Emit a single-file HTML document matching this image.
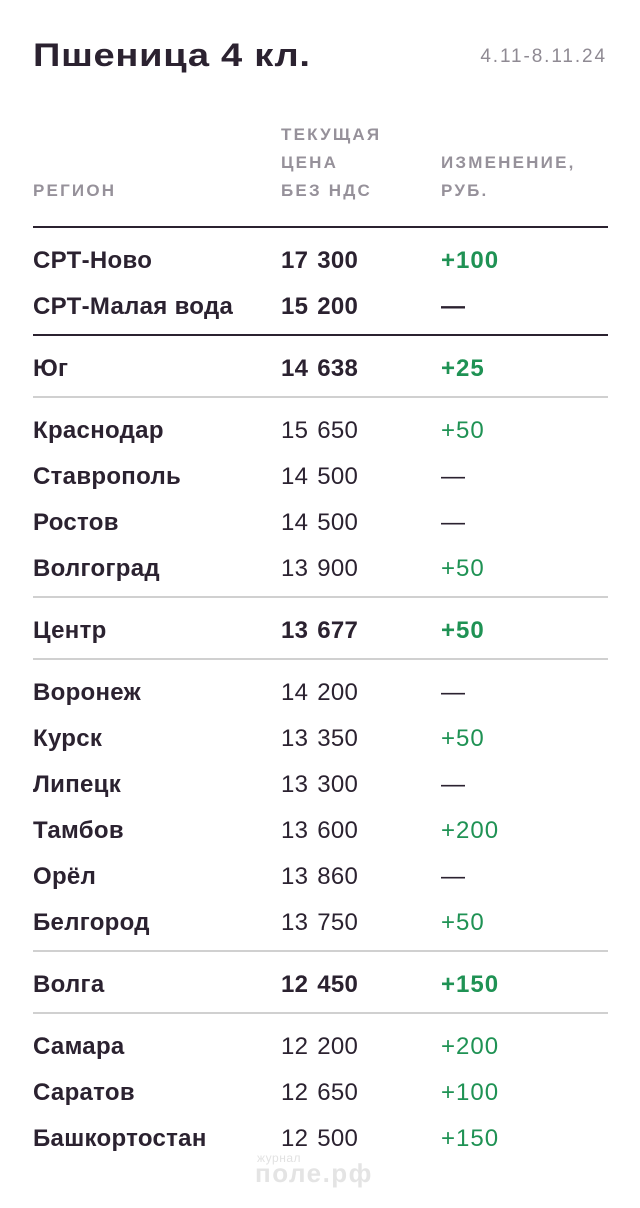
<!DOCTYPE html>
<html>
<head>
<meta charset="utf-8">
<style>
  html,body{margin:0;padding:0;background:#fff;}
  body{width:640px;height:1208px;position:relative;overflow:hidden;font-family:"Liberation Sans","Noto Sans CJK SC",sans-serif;color:#2b2230;}
  .a{position:absolute;white-space:nowrap;}
  .title{left:33px;top:39px;font-size:32px;line-height:32px;font-weight:700;letter-spacing:0.6px;transform:scaleX(1.19);transform-origin:0 0;}
  .date{right:33px;top:47px;font-size:19px;line-height:19px;color:#8f8a93;letter-spacing:1.9px;}
  .hd{font-size:17px;line-height:28px;color:#96919a;letter-spacing:2.2px;font-weight:700;}
  .ln{position:absolute;left:33px;width:575px;height:2px;}
  .dk{background:#2b2230;}
  .gr{background:#d0d0d0;}
  .row{position:absolute;left:0;width:640px;height:46px;line-height:46px;font-size:24px;margin-top:2px;}
  .row span{position:absolute;top:0;white-space:nowrap;letter-spacing:0.3px;}
  .c1{left:33px;font-weight:700;}
  .c2{left:281px;word-spacing:2px;}
  .c3{left:441px;color:#1f9254;letter-spacing:1px !important;}
  .b{font-weight:700;}
  .d{color:#2b2230 !important;}
  .wm1{left:257px;top:1152px;font-size:12px;line-height:12px;color:#e2e2e2;letter-spacing:0.5px;}
  .wm2{left:255px;top:1160px;font-size:26px;line-height:26px;color:#e4e4e4;font-weight:700;letter-spacing:1.5px;}
</style>
</head>
<body>
<div class="a title">Пшеница 4 кл.</div>
<div class="a date">4.11-8.11.24</div>

<div class="a hd" style="left:33px;top:177px;">РЕГИОН</div>
<div class="a hd" style="left:281px;top:121px;">ТЕКУЩАЯ</div>
<div class="a hd" style="left:281px;top:149px;">ЦЕНА</div>
<div class="a hd" style="left:281px;top:177px;">БЕЗ НДС</div>
<div class="a hd" style="left:441px;top:149px;">ИЗМЕНЕНИЕ,</div>
<div class="a hd" style="left:441px;top:177px;">РУБ.</div>

<div class="ln dk" style="top:226px;"></div>
<div class="row" style="top:236px;"><span class="c1">СРТ-Ново</span><span class="c2 b">17 300</span><span class="c3 b">+100</span></div>
<div class="row" style="top:282px;"><span class="c1">СРТ-Малая вода</span><span class="c2 b">15 200</span><span class="c3 b d">—</span></div>

<div class="ln dk" style="top:334px;"></div>
<div class="row" style="top:344px;"><span class="c1">Юг</span><span class="c2 b">14 638</span><span class="c3 b">+25</span></div>

<div class="ln gr" style="top:396px;"></div>
<div class="row" style="top:406px;"><span class="c1">Краснодар</span><span class="c2">15 650</span><span class="c3">+50</span></div>
<div class="row" style="top:452px;"><span class="c1">Ставрополь</span><span class="c2">14 500</span><span class="c3 d">—</span></div>
<div class="row" style="top:498px;"><span class="c1">Ростов</span><span class="c2">14 500</span><span class="c3 d">—</span></div>
<div class="row" style="top:544px;"><span class="c1">Волгоград</span><span class="c2">13 900</span><span class="c3">+50</span></div>

<div class="ln gr" style="top:596px;"></div>
<div class="row" style="top:606px;"><span class="c1">Центр</span><span class="c2 b">13 677</span><span class="c3 b">+50</span></div>

<div class="ln gr" style="top:658px;"></div>
<div class="row" style="top:668px;"><span class="c1">Воронеж</span><span class="c2">14 200</span><span class="c3 d">—</span></div>
<div class="row" style="top:714px;"><span class="c1">Курск</span><span class="c2">13 350</span><span class="c3">+50</span></div>
<div class="row" style="top:760px;"><span class="c1">Липецк</span><span class="c2">13 300</span><span class="c3 d">—</span></div>
<div class="row" style="top:806px;"><span class="c1">Тамбов</span><span class="c2">13 600</span><span class="c3">+200</span></div>
<div class="row" style="top:852px;"><span class="c1">Орёл</span><span class="c2">13 860</span><span class="c3 d">—</span></div>
<div class="row" style="top:898px;"><span class="c1">Белгород</span><span class="c2">13 750</span><span class="c3">+50</span></div>

<div class="ln gr" style="top:950px;"></div>
<div class="row" style="top:960px;"><span class="c1">Волга</span><span class="c2 b">12 450</span><span class="c3 b">+150</span></div>

<div class="ln gr" style="top:1012px;"></div>
<div class="row" style="top:1022px;"><span class="c1">Самара</span><span class="c2">12 200</span><span class="c3">+200</span></div>
<div class="row" style="top:1068px;"><span class="c1">Саратов</span><span class="c2">12 650</span><span class="c3">+100</span></div>
<div class="row" style="top:1114px;"><span class="c1">Башкортостан</span><span class="c2">12 500</span><span class="c3">+150</span></div>

<div class="a wm1">журнал</div>
<div class="a wm2">поле.рф</div>
</body>
</html>
